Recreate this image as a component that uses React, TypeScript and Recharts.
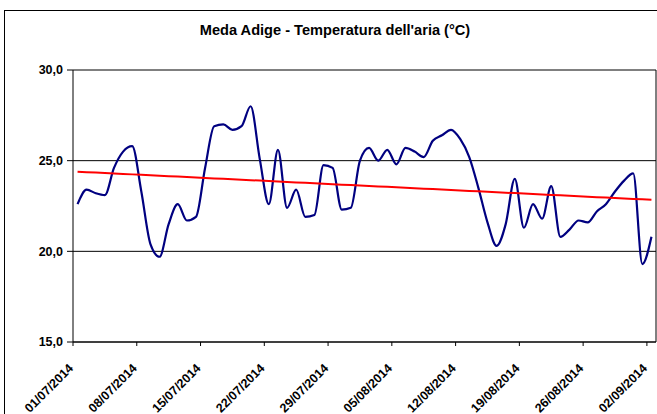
import React from 'react';
import {
  LineChart,
  Line,
  XAxis,
  YAxis,
  CartesianGrid,
  ReferenceLine,
} from 'recharts';

// daily mean air temperature, 01/07/2014 .. 02/09/2014
const temps: number[] = [
  22.6, 23.4, 23.2, 23.1, 24.6, 25.5, 25.8, 23.3, 20.4, 19.7,
  21.5, 22.6, 21.7, 21.9, 24.6, 26.9, 27.0, 26.7, 26.9, 28.0,
  25.1, 22.6, 25.6, 22.4, 23.4, 21.9, 22.0, 24.75, 24.6, 22.3,
  22.4, 25.0, 25.7, 25.0, 25.6, 24.8, 25.7, 25.5, 25.2, 26.1,
  26.4, 26.7, 26.2, 25.2, 23.5, 21.6, 20.3, 21.5, 24.0, 21.3,
  22.6, 21.8, 23.6, 20.8, 21.2, 21.7, 21.6, 22.2, 22.6, 23.3,
  23.9, 24.3, 19.3, 20.8,
];

const tickLabels: string[] = [
  '01/07/2014', '08/07/2014', '15/07/2014', '22/07/2014', '29/07/2014',
  '05/08/2014', '12/08/2014', '19/08/2014', '26/08/2014', '02/09/2014',
];

const yTicks: number[] = [15, 20, 25, 30];

// linear trend (least squares), like Excel's trendline
const n = temps.length;
const meanX = (n - 1) / 2;
const meanY = temps.reduce((s, v) => s + v, 0) / n;
let num = 0;
let den = 0;
temps.forEach((v, i) => {
  num += (i - meanX) * (v - meanY);
  den += (i - meanX) * (i - meanX);
});
const slope = num / den;
const intercept = meanY - slope * meanX;

const chartData = temps.map((t, i) => ({
  day: i,
  temp: t,
  trend: intercept + slope * i,
}));

// ticks sit on the left edge of each week's first day
const xTicks = tickLabels.map((_, k) => k * 7 - 0.5);

const FONT = '"Liberation Sans", Arial, sans-serif';

const DateTick = (props: any) => {
  const { x, y, payload } = props;
  const idx = Math.round((payload.value + 0.5) / 7);
  const ax = x + 1;
  const ay = y + 21;
  return (
    <text
      x={ax}
      y={ay}
      transform={`rotate(-45, ${ax}, ${ay})`}
      textAnchor="end"
      fontSize={12.5}
      fontWeight="bold"
      fontFamily={FONT}
      fill="#000"
    >
      {tickLabels[idx]}
    </text>
  );
};

const App = () => {
  return (
    <div
      style={{
        position: 'absolute',
        left: 0,
        top: 0,
        width: 657,
        height: 414,
        overflow: 'hidden',
        background: '#fff',
      }}
    >
      <div
        style={{
          position: 'absolute',
          left: 4,
          top: 10,
          width: 800,
          height: 600,
          border: '1px solid #000',
        }}
      />
      <div
        style={{
          position: 'absolute',
          left: 0,
          top: 22,
          width: 670,
          textAlign: 'center',
          fontFamily: FONT,
          fontWeight: 'bold',
          fontSize: 14.6,
        }}
      >
        Meda Adige - Temperatura dell'aria (°C)
      </div>
      <div style={{ position: 'absolute', left: 0, top: 0 }}>
        <LineChart
          width={657}
          height={414}
          data={chartData}
          margin={{ top: 70, right: 1, left: 8, bottom: 2 }}
        >
          <CartesianGrid vertical={false} stroke="#000" strokeOpacity={1} />
          <XAxis
            dataKey="day"
            type="number"
            domain={[-0.5, 63.5]}
            ticks={xTicks}
            interval={0}
            height={70}
            tickSize={4}
            tick={<DateTick />}
            axisLine={{ stroke: '#000' }}
            tickLine={{ stroke: '#000' }}
            allowDataOverflow
          />
          <YAxis
            domain={[15, 30]}
            ticks={yTicks}
            width={65}
            tickSize={6}
            tickMargin={4}
            tickFormatter={(v: number) => v.toFixed(1).replace('.', ',')}
            tick={{ fill: '#000', fontSize: 12.5, fontWeight: 'bold', fontFamily: FONT }}
            axisLine={{ stroke: '#000' }}
            tickLine={{ stroke: '#000' }}
          />
          <ReferenceLine x={63.5} stroke="#000" />
          <Line
            type="monotone"
            dataKey="temp"
            stroke="#000080"
            strokeWidth={2.2}
            dot={false}
            isAnimationActive={false}
          />
          <Line
            type="linear"
            dataKey="trend"
            stroke="#ff0000"
            strokeWidth={2}
            dot={false}
            isAnimationActive={false}
          />
        </LineChart>
      </div>
    </div>
  );
};

export default App;
